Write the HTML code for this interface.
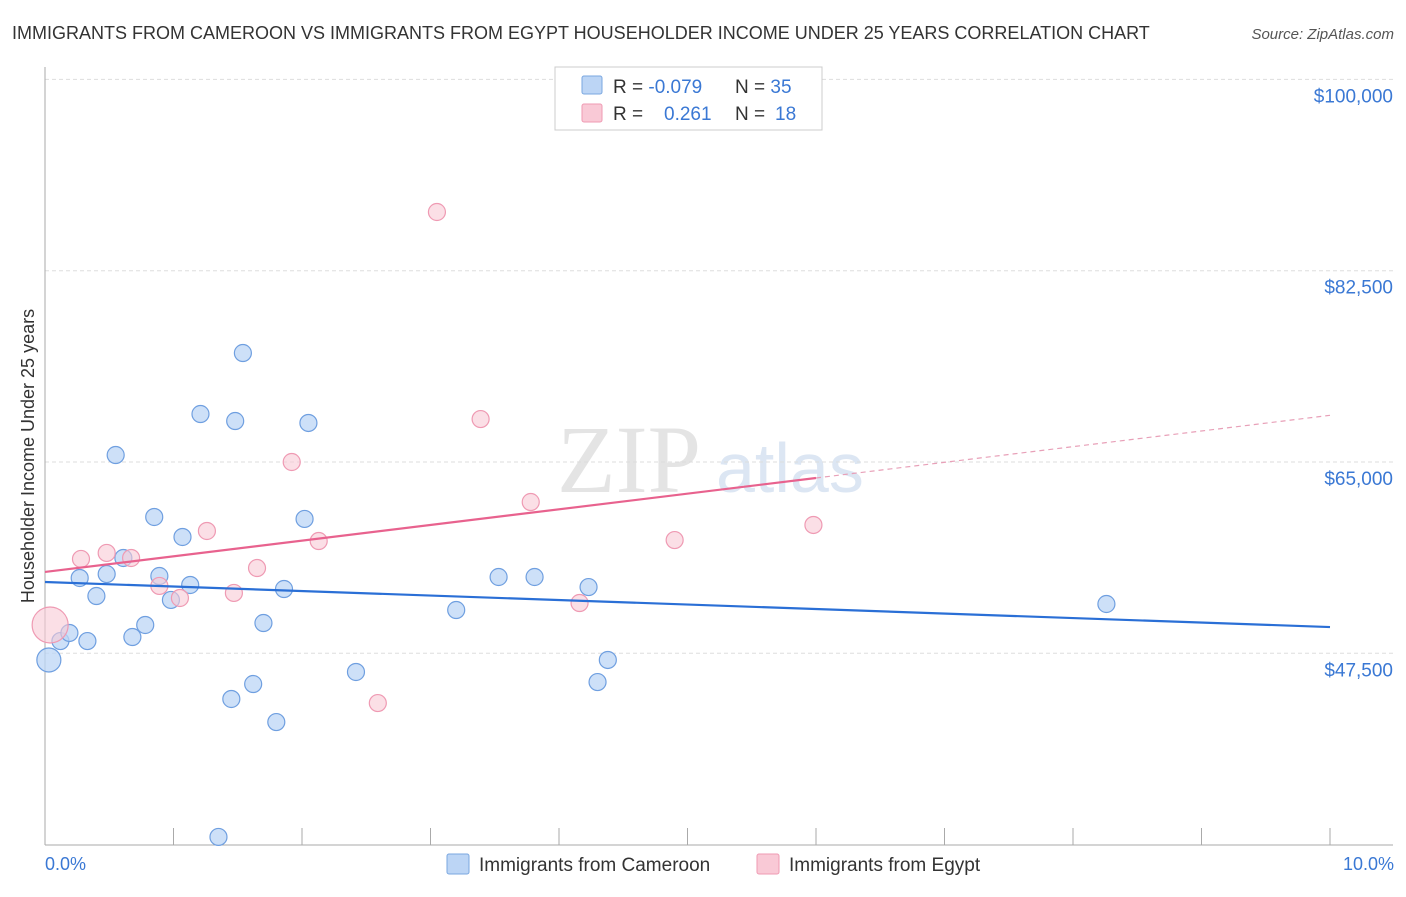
<!DOCTYPE html>
<html><head><meta charset="utf-8"><style>
body{margin:0;background:#fff;font-family:"Liberation Sans",sans-serif}
svg text{font-family:"Liberation Sans",sans-serif}
</style></head><body>
<svg id="c" width="1406" height="892">
<text x="12" y="39" font-size="18" fill="#333">IMMIGRANTS FROM CAMEROON VS IMMIGRANTS FROM EGYPT HOUSEHOLDER INCOME UNDER 25 YEARS CORRELATION CHART</text>
<text x="1394" y="39" font-size="15" fill="#555" text-anchor="end" font-style="italic">Source: ZipAtlas.com</text>
<text x="557" y="492" font-size="96" fill="#e4e4e4" font-family="Liberation Serif" style="font-family:'Liberation Serif',serif">ZIP</text>
<text x="716" y="492" font-size="70" fill="#dce6f3">atlas</text>
<g id="grid"></g>
<g id="pts"></g>
<g id="lines"></g>
<text transform="translate(34,456) rotate(-90)" font-size="18" fill="#333" text-anchor="middle">Householder Income Under 25 years</text>
<text x="45" y="870" font-size="18" fill="#3a78d4">0.0%</text>
<text x="1394" y="870" font-size="18" fill="#3a78d4" text-anchor="end">10.0%</text>
<g>
<rect x="555" y="67" width="267" height="63" fill="#fff" stroke="#ccc"/>
<rect x="582" y="76" width="20" height="18" fill="#bcd5f5" stroke="#7aa7e0" rx="2"/>
<rect x="582" y="104" width="20" height="18" fill="#f9c9d6" stroke="#ef9ab3" rx="2"/>
<text x="613" y="93" font-size="19" fill="#333">R = <tspan fill="#3a78d4">-0.079</tspan></text>
<text x="735" y="93" font-size="19" fill="#333">N = <tspan fill="#3a78d4">35</tspan></text>
<text x="613" y="120" font-size="19" fill="#333">R = </text>
<text x="664" y="120" font-size="19" fill="#3a78d4">0.261</text>
<text x="735" y="120" font-size="19" fill="#333">N = </text>
<text x="775" y="120" font-size="19" fill="#3a78d4">18</text>
</g>
<g>
<rect x="447" y="854" width="22" height="20" fill="#bcd5f5" stroke="#7aa7e0" rx="2"/>
<text x="479" y="871" font-size="19" fill="#333">Immigrants from Cameroon</text>
<rect x="757" y="854" width="22" height="20" fill="#f9c9d6" stroke="#ef9ab3" rx="2"/>
<text x="789" y="871" font-size="19" fill="#333">Immigrants from Egypt</text>
</g>
</svg>
<script>
const yTicks=[47500,65000,82500,100000];
const yTickLabels=["$47,500","$65,000","$82,500","$100,000"];
const xTicks=[0,1,2,3,4,5,6,7,8,9,10];
const camX=[0.03,0.12,0.19,0.33,0.27,0.40,0.48,0.55,0.61,0.68,0.78,0.85,0.89,0.98,1.07,1.13,1.21,1.35,1.45,1.48,1.54,1.62,1.70,1.80,1.86,2.02,2.05,2.42,3.20,3.53,3.81,4.23,4.30,4.38,8.26];
const camY=[46890,48620,49360,48620,54390,52740,54750,65640,56220,48990,50090,59970,54570,52380,58140,53750,69390,30700,43320,68750,74970,44690,50270,41210,53380,59790,68570,45790,51460,54480,54480,53560,44870,46890,52010];
const egyX=[0.04,0.28,0.48,0.67,0.89,1.05,1.26,1.47,1.65,1.92,2.13,2.59,3.05,3.39,3.78,4.16,4.90,5.98];
const egyY=[50090,56130,56680,56220,53660,52560,58690,53020,55300,65000,57770,42950,87870,68930,61340,52100,57860,59240];
const camTrend=[54020,49900];
const egyTrend=[54940,69270];
const egySolidEnd=6.0;
const NS="http://www.w3.org/2000/svg";
const X=v=>45+v*128.5;
const Y=v=>462-(v-65000)*191.3/17500;
function mk(t,a,p){const e=document.createElementNS(NS,t);for(const k in a)e.setAttribute(k,a[k]);p.appendChild(e);return e;}
const grid=document.getElementById('grid');
yTicks.forEach((t,i)=>{
 const l=mk('line',{x1:45,x2:1393,y1:Y(t),y2:Y(t),stroke:'#ddd','stroke-dasharray':'4,3'},grid);
 
 
 const tx=mk('text',{x:1393,y:Y(t)+23,'font-size':19,fill:'#3a78d4','text-anchor':'end'},grid);
 tx.textContent=yTickLabels[i];
 
 
});
const ax=mk('line',{x1:45,x2:45,y1:67,y2:845,stroke:'#aaa'},grid);


const bx=mk('line',{x1:45,x2:1393,y1:845,y2:845,stroke:'#aaa'},grid);


xTicks.forEach(t=>{
 const l=mk('line',{x1:X(t),x2:X(t),y1:828,y2:845,stroke:'#aaa'},grid);
 
 
});
const pts=document.getElementById('pts');
camX.forEach((x,i)=>{
 const c=mk('circle',{cx:X(x),cy:Y(camY[i]),r:i==0?12:8.5,fill:'#bcd5f5','fill-opacity':0.75,stroke:'#6f9fe0','stroke-width':1.2},pts);
 
 
});
egyX.forEach((x,i)=>{
 const c=mk('circle',{cx:X(x),cy:Y(egyY[i]),r:i==0?18:8.5,fill:'#f9c9d6','fill-opacity':0.6,stroke:'#ef9ab3','stroke-width':1.2},pts);
 
 
});
const lines=document.getElementById('lines');
const bl=mk('line',{x1:X(0),y1:Y(camTrend[0]),x2:X(10),y2:Y(camTrend[1]),stroke:'#2a6fd6','stroke-width':2.2},lines);


const ey=x=>egyTrend[0]+(egyTrend[1]-egyTrend[0])*x/10;
const pl=mk('line',{x1:X(0),y1:Y(ey(0)),x2:X(egySolidEnd),y2:Y(ey(egySolidEnd)),stroke:'#e8628e','stroke-width':2.2},lines);


const pd=mk('line',{x1:X(egySolidEnd),y1:Y(ey(egySolidEnd)),x2:X(10),y2:Y(ey(10)),stroke:'#e8a0b8','stroke-width':1.2,'stroke-dasharray':'5,4'},lines);


</script>
</body></html>
